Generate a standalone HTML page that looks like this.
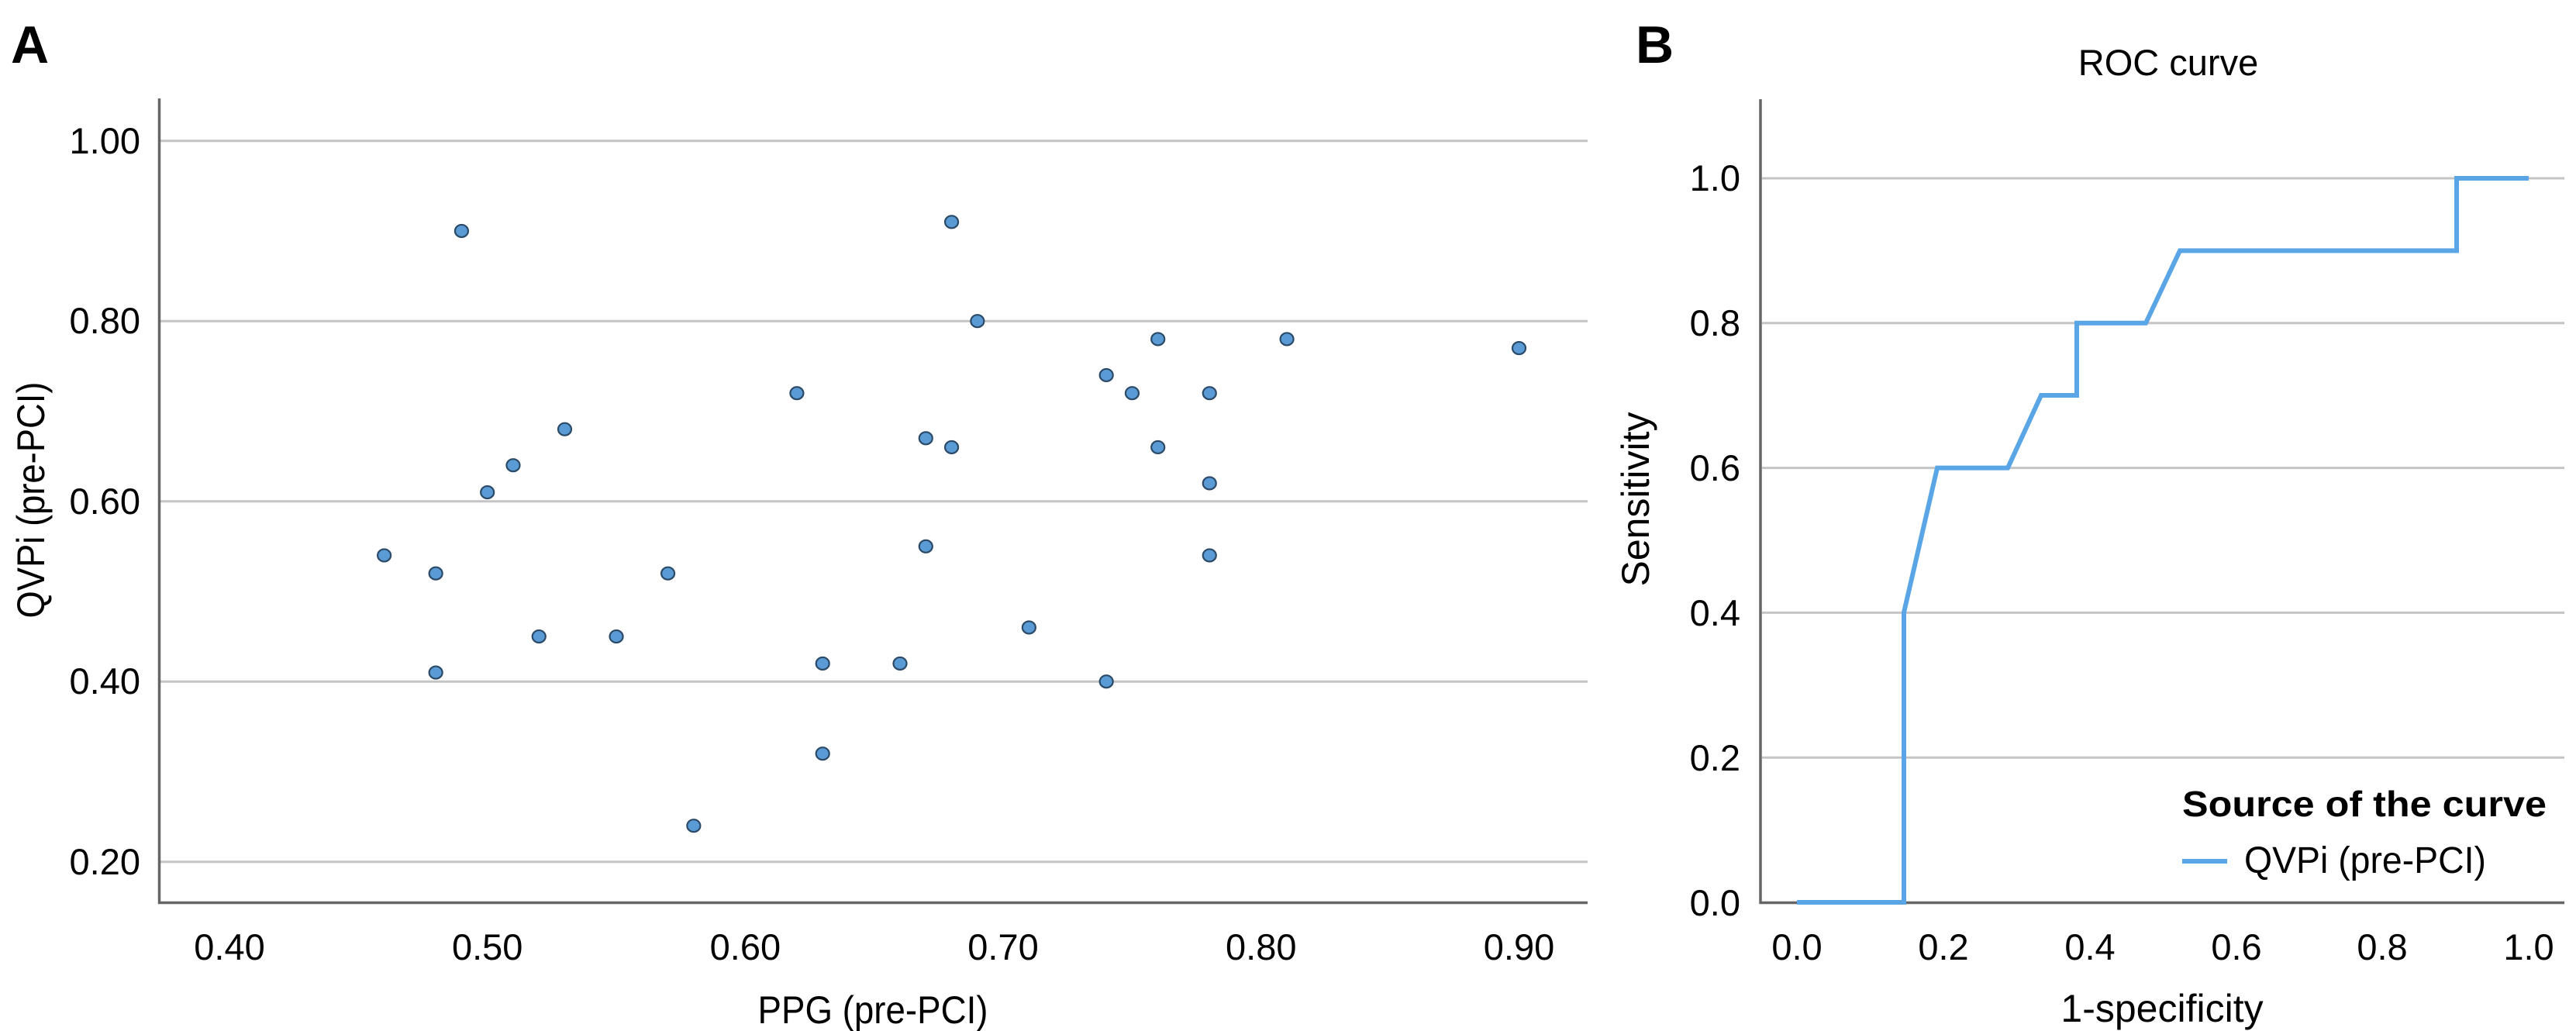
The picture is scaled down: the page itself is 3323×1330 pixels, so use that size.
<!DOCTYPE html>
<html><head><meta charset="utf-8"><style>
html,body{margin:0;padding:0;background:#fff}
svg{display:block}
text{font-family:"Liberation Sans",Arial,sans-serif;fill:#000}
</style></head><body>
<svg width="3323" height="1330" viewBox="0 0 3323 1330" xmlns="http://www.w3.org/2000/svg">
<text x="14" y="81" font-size="68" font-weight="bold">A</text>
<text x="2110" y="81" font-size="68" font-weight="bold">B</text>
<!-- Panel A grid -->
<g stroke="#c4c4c4" stroke-width="3">
<line x1="207" y1="181.7" x2="2048" y2="181.7"/>
<line x1="207" y1="414.2" x2="2048" y2="414.2"/>
<line x1="207" y1="646.7" x2="2048" y2="646.7"/>
<line x1="207" y1="879.2" x2="2048" y2="879.2"/>
<line x1="207" y1="1111.7" x2="2048" y2="1111.7"/>
</g>
<g stroke="#666" stroke-width="3.5" fill="none">
<polyline points="205.5,127 205.5,1164.5 2048,1164.5"/>
</g>
<g font-size="47" text-anchor="end">
<text x="181" y="198">1.00</text>
<text x="181" y="430">0.80</text>
<text x="181" y="663">0.60</text>
<text x="181" y="895">0.40</text>
<text x="181" y="1128">0.20</text>
</g>
<g font-size="47" text-anchor="middle">
<text x="296" y="1238">0.40</text>
<text x="628.7" y="1238">0.50</text>
<text x="961.4" y="1238">0.60</text>
<text x="1294" y="1238">0.70</text>
<text x="1626.8" y="1238">0.80</text>
<text x="1959.5" y="1238">0.90</text>
</g>
<text x="1126" y="1320" font-size="50" text-anchor="middle" textLength="297" lengthAdjust="spacingAndGlyphs">PPG (pre-PCI)</text>
<text transform="translate(57,645) rotate(-90)" font-size="50" text-anchor="middle" textLength="305" lengthAdjust="spacingAndGlyphs">QVPi (pre-PCI)</text>
<g fill="#5b9bd5" stroke="#2b4a68" stroke-width="2.2" id="pts"></g>
<!-- Panel B -->
<text x="2797" y="97" font-size="47" text-anchor="middle">ROC curve</text>
<g stroke="#c4c4c4" stroke-width="3">
<line x1="2273" y1="230" x2="3308" y2="230"/>
<line x1="2273" y1="416.8" x2="3308" y2="416.8"/>
<line x1="2273" y1="603.6" x2="3308" y2="603.6"/>
<line x1="2273" y1="790.4" x2="3308" y2="790.4"/>
<line x1="2273" y1="977.2" x2="3308" y2="977.2"/>
</g>
<polyline points="2271,128 2271,1164.5 3308,1164.5" stroke="#666" stroke-width="3.5" fill="none"/>
<g font-size="47" text-anchor="end">
<text x="2245" y="246">1.0</text>
<text x="2245" y="433">0.8</text>
<text x="2245" y="620">0.6</text>
<text x="2245" y="807">0.4</text>
<text x="2245" y="994">0.2</text>
<text x="2245" y="1181">0.0</text>
</g>
<g font-size="47" text-anchor="middle">
<text x="2318" y="1238">0.0</text>
<text x="2507" y="1238">0.2</text>
<text x="2696" y="1238">0.4</text>
<text x="2885" y="1238">0.6</text>
<text x="3073" y="1238">0.8</text>
<text x="3262" y="1238">1.0</text>
</g>
<text x="2789" y="1318" font-size="50" text-anchor="middle">1-specificity</text>
<text transform="translate(2127,644) rotate(-90)" font-size="50" text-anchor="middle">Sensitivity</text>
<polyline fill="none" stroke="#5aa5e6" stroke-width="6" stroke-linejoin="miter"
points="2318,1164 2456,1164 2456,790 2499,603.6 2590,603.6 2633,510 2679,510 2679,416.8 2768,416.8 2812,323.4 3169,323.4 3169,230 3262,230"/>
<text x="2815" y="1053" font-size="46" font-weight="bold" textLength="470" lengthAdjust="spacingAndGlyphs">Source of the curve</text>
<line x1="2815" y1="1111" x2="2873" y2="1111" stroke="#5aa5e6" stroke-width="6"/>
<text x="2895" y="1126" font-size="48" textLength="312" lengthAdjust="spacingAndGlyphs">QVPi (pre-PCI)</text>
</svg>
<script>
var d=[[0.46,0.54],[0.48,0.52],[0.48,0.41],[0.49,0.90],[0.50,0.61],[0.51,0.64],[0.52,0.45],[0.53,0.68],[0.55,0.45],[0.57,0.52],[0.58,0.24],[0.62,0.72],[0.63,0.42],[0.63,0.32],[0.66,0.42],[0.67,0.67],[0.67,0.55],[0.68,0.91],[0.68,0.66],[0.69,0.80],[0.71,0.46],[0.74,0.74],[0.74,0.40],[0.75,0.72],[0.76,0.78],[0.76,0.66],[0.78,0.72],[0.78,0.62],[0.78,0.54],[0.81,0.78],[0.90,0.77]];
var g=document.getElementById('pts'),s='';
d.forEach(function(p){var x=296+(p[0]-0.4)*3327,y=181.7+(1-p[1])*1162.5;s+='<ellipse cx="'+x+'" cy="'+y+'" rx="8.5" ry="8"/>';});
g.innerHTML=s;
</script>
</body></html>
